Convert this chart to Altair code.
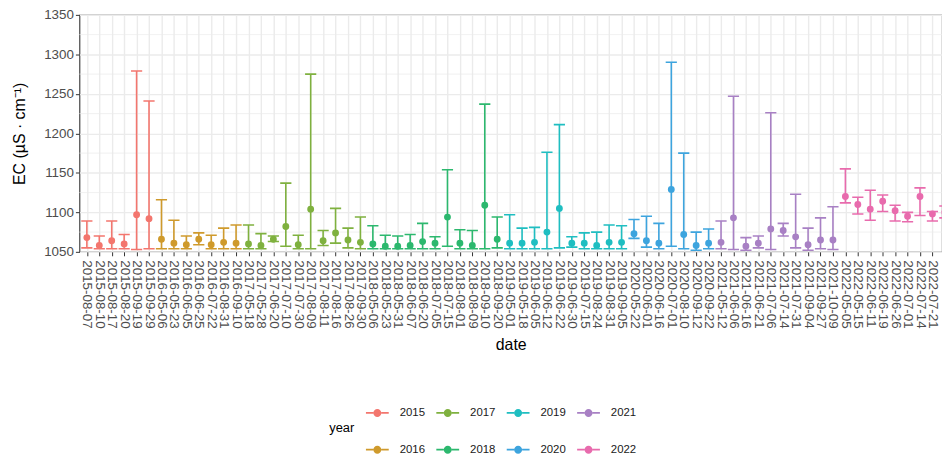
import json
import altair as alt
import pandas as pd

dates = [
    "2015-08-07", "2015-08-10", "2015-08-17", "2015-08-20", "2015-09-19", "2015-09-29",
    "2016-05-06", "2016-05-23", "2016-06-05", "2016-06-25", "2016-07-22", "2016-08-31", "2016-09-10",
    "2017-05-18", "2017-05-28", "2017-06-20", "2017-07-10", "2017-07-30", "2017-08-09", "2017-08-11",
    "2017-08-16", "2017-08-26", "2017-09-30",
    "2018-05-06", "2018-05-23", "2018-05-31", "2018-06-07", "2018-06-20", "2018-07-05", "2018-07-15",
    "2018-08-01", "2018-08-09", "2018-09-10", "2018-09-20",
    "2019-05-01", "2019-05-18", "2019-06-05", "2019-06-12", "2019-06-22", "2019-06-30", "2019-07-15",
    "2019-08-24", "2019-08-31", "2019-09-05",
    "2020-05-22", "2020-06-01", "2020-06-16", "2020-07-01", "2020-08-10", "2020-09-12", "2020-09-22",
    "2021-05-12", "2021-06-06", "2021-06-16", "2021-06-21", "2021-07-06", "2021-07-14", "2021-07-31",
    "2021-09-04", "2021-09-27", "2021-10-09",
    "2022-05-05", "2022-05-15", "2022-06-11", "2022-06-19", "2022-06-26", "2022-07-01", "2022-07-14",
    "2022-07-21", "2022-07-28",
]

ec_mean = [
    1068, 1058, 1064, 1060, 1097, 1092,
    1066, 1061, 1059, 1066, 1059, 1062, 1061,
    1060, 1058, 1066, 1082, 1059, 1104, 1064, 1074, 1065, 1062,
    1060, 1057, 1057, 1058, 1063, 1061, 1094, 1061, 1058, 1109, 1066,
    1061, 1061, 1062, 1075, 1105, 1061, 1061, 1058, 1062, 1062,
    1073, 1064, 1061, 1129, 1072, 1058, 1061,
    1062, 1093, 1057, 1061, 1079, 1077, 1069, 1059, 1065, 1065,
    1120, 1110, 1104, 1114, 1102, 1095, 1120, 1098, 1100,
]

ec_upper = [
    1089, 1070, 1089, 1072, 1279, 1241,
    1116, 1090, 1070, 1074, 1071, 1080, 1084,
    1084, 1073, 1070, 1137, 1071, 1275, 1077, 1105, 1080, 1094,
    1083, 1071, 1070, 1072, 1086, 1069, 1154, 1078, 1077, 1237, 1094,
    1097, 1080, 1081, 1176, 1211, 1069, 1074, 1075, 1084, 1083,
    1091, 1095, 1086, 1290, 1175, 1075, 1079,
    1089, 1247, 1068, 1070, 1226, 1086, 1123, 1080, 1093, 1107,
    1155, 1119, 1128, 1122, 1109, 1100, 1131, 1101, 1108,
]

ec_lower = [
    1055, 1054, 1054, 1054, 1053, 1054,
    1054, 1054, 1054, 1059, 1054, 1054, 1054,
    1054, 1054, 1063, 1057, 1054, 1054, 1058, 1061, 1055, 1054,
    1054, 1054, 1054, 1054, 1054, 1054, 1057, 1054, 1054, 1054, 1055,
    1054, 1054, 1054, 1054, 1055, 1056, 1054, 1054, 1054, 1054,
    1067, 1056, 1054, 1057, 1054, 1052, 1054,
    1054, 1053, 1052, 1055, 1053, 1070, 1055, 1052, 1054, 1053,
    1112, 1098, 1090, 1101, 1089, 1088, 1096, 1089, 1093,
]

# legend order (row-wise: 2015 2017 2019 2021 / 2016 2018 2020 2022)
year_order = ["2015", "2017", "2019", "2021", "2016", "2018", "2020", "2022"]
year_colors = ["#F3766E", "#7FB13F", "#1FBEC1", "#A880C4", "#CF9A2C", "#2CB86E", "#3DA4DE", "#E86BAD"]

y_major = [1050, 1100, 1150, 1200, 1250, 1300, 1350]
y_minor = [1075, 1125, 1175, 1225, 1275, 1325]

df = pd.DataFrame({
    "idx": list(range(len(dates))),
    "date": dates,
    "year": [d[:4] for d in dates],
    "mean": ec_mean,
    "hi": ec_upper,
    "lo": ec_lower,
})

FONT = "Liberation Sans"
xscale = alt.Scale(domain=[-0.6, 68.77], nice=False, zero=False)
yscale = alt.Scale(domain=[1050, 1350], nice=False, zero=False)

label_expr = json.dumps(dates) + "[datum.value]"

xaxis = alt.Axis(
    values=list(range(len(dates))), labelExpr=label_expr, labelAngle=90,
    labelOverlap=False, labelFlush=False, title="date", grid=True,
    gridColor="#EBEBEB", gridWidth=1.4, tickColor="#333333", tickSize=4,
    labelFontSize=13.5, labelColor="#4D4D4D", labelPadding=4, labelFont=FONT,
    titleFontSize=16, titleFontWeight="normal", titleColor="black", titleFont=FONT,
    titlePadding=8, domain=False,
)
yaxis = alt.Axis(
    values=y_major, format="d", labelOverlap=False, title="EC (µS · cm⁻¹)",
    grid=True, gridColor="#EBEBEB",
    gridWidth=1.4, tickColor="#333333", tickSize=4, labelFontSize=13.5,
    labelColor="#4D4D4D", labelPadding=2, labelFont=FONT, titleFontSize=16,
    titleFontWeight="normal", titleColor="black", titleFont=FONT, titlePadding=16,
    domain=False,
)

symbol_path = (
    "M-1,-0.08 L-0.35,-0.08 L-0.35,0.08 L-1,0.08 Z "
    "M0.35,-0.08 L1,-0.08 L1,0.08 L0.35,0.08 Z "
    "M-0.35,0 A0.35,0.35 0 1,1 0.35,0 A0.35,0.35 0 1,1 -0.35,0 Z"
)

legend = alt.Legend(
    orient="none", legendX=252, legendY=390, direction="horizontal", columns=4,
    title="year", titleOrient="left", titleAnchor="middle", titleBaseline="middle",
    titleFontSize=13, titleFontWeight="normal",
    titleColor="black", titleFont=FONT, labelFontSize=11.5, labelColor="#1A1A1A",
    labelFont=FONT, symbolType=symbol_path, symbolSize=529, symbolStrokeWidth=0,
    symbolOpacity=1, labelOffset=11, columnPadding=11, rowPadding=20, titlePadding=11,
)

color = alt.Color("year:N", scale=alt.Scale(domain=year_order, range=year_colors), legend=legend)

base = alt.Chart(df)

X = lambda f: alt.X(f, scale=xscale, axis=xaxis)
Y = lambda f: alt.Y(f, scale=yscale, axis=yaxis)

minor = alt.Chart(pd.DataFrame({"y": y_minor})).mark_rule(
    color="#EBEBEB", strokeWidth=0.7
).encode(y=Y("y:Q"))

points = base.mark_circle(size=48, opacity=1, clip=True).encode(
    x=X("idx:Q"), y=Y("mean:Q"), color=color,
)

bars = base.mark_rule(strokeWidth=1.6, clip=True).encode(
    x=X("idx:Q"), y=Y("lo:Q"), y2="hi:Q", color=color,
)

caps_hi = base.transform_calculate(
    xl="datum.idx - 0.45", xr="datum.idx + 0.45"
).mark_rule(strokeWidth=1.6, clip=True).encode(
    x=X("xl:Q"), x2="xr:Q", y=Y("hi:Q"), color=color,
)
caps_lo = base.transform_calculate(
    xl="datum.idx - 0.45", xr="datum.idx + 0.45"
).mark_rule(strokeWidth=1.6, clip=True).encode(
    x=X("xl:Q"), x2="xr:Q", y=Y("lo:Q"), color=color,
)

chart = alt.layer(minor, points, bars, caps_hi, caps_lo).properties(
    width=870, height=239,
    autosize=alt.AutoSizeParams(type="none"),
    padding={"left": 72, "top": 5, "right": 0, "bottom": 205},
).configure(font=FONT).configure_view(stroke="#333333", strokeWidth=1.1)

chart.save("out.html", embed_options={"renderer": "svg", "actions": False})
